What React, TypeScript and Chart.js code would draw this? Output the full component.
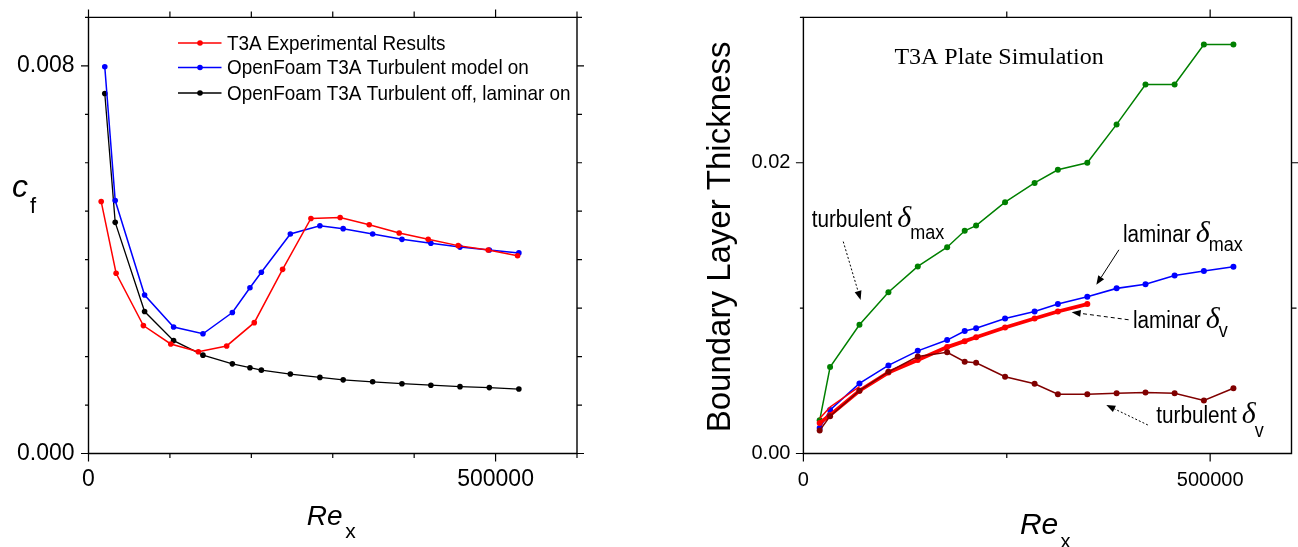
import React, { useEffect, useRef } from "react";
import { Chart, registerables } from "chart.js";
Chart.register(...registerables);

const SANS = "'Liberation Sans', Arial, Helvetica, sans-serif";
const SERIF = "'Liberation Serif', 'Times New Roman', serif";

// ---------- Left panel: skin friction ----------
const expRe = [15600, 33900, 67400, 101000, 134900, 169700, 203600, 238400, 273200, 309100, 344800, 381600, 417200, 454100, 490900, 527000];
const expCf = [0.0052, 0.00372, 0.00264, 0.00226, 0.0021, 0.00222, 0.0027, 0.0038, 0.00485, 0.00487, 0.00472, 0.00455, 0.00442, 0.00429, 0.0042, 0.00408];
const simRe = [20000, 32800, 68900, 104500, 140600, 176700, 198300, 212300, 247900, 284200, 312800, 349000, 385000, 420500, 456300, 492300, 528600];
const turbOnCf = [0.00798, 0.00522, 0.00327, 0.00261, 0.00247, 0.00291, 0.00342, 0.00374, 0.00453, 0.0047, 0.00464, 0.00453, 0.00442, 0.00434, 0.00426, 0.0042, 0.00414];
const lamOnCf = [0.00743, 0.00477, 0.00293, 0.00233, 0.00203, 0.00185, 0.00177, 0.00172, 0.00164, 0.00157, 0.00152, 0.00148, 0.00144, 0.00141, 0.00138, 0.00136, 0.00133];
const cfNames = ["T3A Experimental Results", "OpenFoam T3A Turbulent model on", "OpenFoam T3A Turbulent off, laminar on"];
const cfColors = ["#ff0000", "#0000ff", "#000000"];
const cfXTicks = [0, 100000, 200000, 300000, 400000, 500000, 600000];
const cfYTicks = [0, 0.001, 0.002, 0.003, 0.004, 0.005, 0.006, 0.007, 0.008, 0.009];
const cfXTickVals = [0, 500000];
const cfXTickText = ["0", "500000"];
const cfYTickVals = [0, 0.008];
const cfYTickText = ["0.000", "0.008"];

// ---------- Right panel: boundary layer thickness ----------
const turbDeltaMax = [0.00228, 0.00595, 0.00886, 0.01109, 0.01287, 0.01419, 0.01532, 0.01568, 0.01729, 0.01861, 0.01952, 0.02, 0.02264, 0.02538, 0.02538, 0.02814, 0.02814];
const lamDeltaMax = [0.00175, 0.003, 0.00482, 0.00606, 0.00706, 0.0078, 0.00843, 0.00862, 0.00929, 0.00977, 0.01028, 0.01078, 0.01136, 0.01164, 0.01225, 0.01256, 0.01285];
const lamDeltaV = [0.0021, 0.00264, 0.00432, 0.00557, 0.00643, 0.00732, 0.00773, 0.008, 0.00867, 0.00929, 0.00977, 0.01028];
const lamDeltaVThin = [0.0024, 0.0032, 0.0046];
const turbDeltaV = [0.00158, 0.00257, 0.00432, 0.00562, 0.00667, 0.00696, 0.00631, 0.00624, 0.00528, 0.0048, 0.00408, 0.00408, 0.00415, 0.0042, 0.00415, 0.00365, 0.00449];
const blXTicks = [0, 250000, 500000];
const blYTicks = [0, 0.01, 0.02, 0.03];
const blXTopTicks = [250000, 500000];
const blYRightTicks = [0.01, 0.02];
const blXTickVals = [0, 500000];
const blXTickText = ["0", "500000"];
const blYTickVals = [0, 0.02];
const blYTickText = ["0.00", "0.02"];

// annotations (data coordinates)
const noteWord = ["turbulent", "laminar", "laminar", "turbulent"];
const noteSub = ["max", "max", "v", "v"];
const noteX = [10190, 392730, 405010, 433740];
const noteY = [0.01561, 0.014535, 0.008617, 0.002078];
const noteSubDy = [12, 9, 9, 14];
const arrowFromX = [48990, 387820, 399740, 423430];
const arrowFromY = [0.014577, 0.014012, 0.0092, 0.00196];
const arrowToX = [70350, 360080, 329760, 372360];
const arrowToY = [0.010564, 0.011603, 0.00972, 0.003338];
const arrowDash = [[2, 2], [], [4, 3], [2, 2]];

const pts = (xs: number[], ys: number[]) => ys.map((y, i) => ({ x: xs[i], y }));

const near = (v: number, arr: number[], tol: number) => arr.some((a) => Math.abs(a - v) <= tol);

function tickFmt(vals: number[], texts: string[], tol: number) {
  return (v: any) => {
    const n = Number(v);
    for (let i = 0; i < vals.length; i++) if (Math.abs(n - vals[i]) <= tol) return texts[i];
    return "";
  };
}

function drawText(ctx: CanvasRenderingContext2D, text: string, x: number, y: number, font: string, sx = 1, align: CanvasTextAlign = "left", baseline: CanvasTextBaseline = "alphabetic") {
  ctx.save();
  ctx.font = font;
  ctx.fillStyle = "#000";
  ctx.textAlign = align;
  ctx.textBaseline = baseline;
  ctx.translate(x, y);
  ctx.scale(sx, 1);
  ctx.fillText(text, 0, 0);
  const w = ctx.measureText(text).width * sx;
  ctx.restore();
  return w;
}

function drawArrow(ctx: CanvasRenderingContext2D, x1: number, y1: number, x2: number, y2: number, dash: number[]) {
  ctx.save();
  ctx.strokeStyle = "#000";
  ctx.fillStyle = "#000";
  ctx.lineWidth = 1;
  const ang = Math.atan2(y2 - y1, x2 - x1);
  const hl = 9, hw = 3.5;
  const bx = x2 - hl * Math.cos(ang), by = y2 - hl * Math.sin(ang);
  ctx.setLineDash(dash);
  ctx.beginPath();
  ctx.moveTo(x1, y1);
  ctx.lineTo(bx, by);
  ctx.stroke();
  ctx.setLineDash([]);
  ctx.beginPath();
  ctx.moveTo(x2, y2);
  ctx.lineTo(bx + hw * Math.sin(ang), by - hw * Math.cos(ang));
  ctx.lineTo(bx - hw * Math.sin(ang), by + hw * Math.cos(ang));
  ctx.closePath();
  ctx.fill();
  ctx.restore();
}

function drawFrame(chart: any, xMajor: number[], yMajor: number[], tolX: number, tolY: number, mirrorX: number[] | null, mirrorY: number[] | null) {
  const { ctx, chartArea: a } = chart;
  const xs = chart.scales.x, ys = chart.scales.y;
  ctx.save();
  ctx.strokeStyle = "#000";
  ctx.lineWidth = 1.4;
  ctx.beginPath();
  ctx.rect(a.left, a.top, a.right - a.left, a.bottom - a.top);
  ctx.stroke();
  ctx.lineWidth = 1.2;
  ctx.beginPath();
  for (const t of xs.ticks) {
    const p = xs.getPixelForValue(t.value);
    const maj = near(t.value, xMajor, tolX);
    ctx.moveTo(p, a.bottom);
    ctx.lineTo(p, a.bottom + (maj ? 8 : 4.5));
    if (!mirrorX || near(t.value, mirrorX, tolX)) {
      ctx.moveTo(p, a.top);
      ctx.lineTo(p, a.top - (maj ? 8 : 6));
    }
  }
  for (const t of ys.ticks) {
    const p = ys.getPixelForValue(t.value);
    const maj = near(t.value, yMajor, tolY);
    ctx.moveTo(a.left, p);
    ctx.lineTo(a.left - (maj ? 7.5 : 3.5), p);
    if (!mirrorY || near(t.value, mirrorY, tolY)) {
      ctx.moveTo(a.right, p);
      ctx.lineTo(a.right + (maj ? 7 : 5), p);
    }
  }
  ctx.stroke();
  ctx.restore();
}

function scaleX(tickList: number[], vals: number[], texts: string[], size: number, pad: number, h: number) {
  return {
    type: "linear" as const,
    min: 0,
    max: 600000,
    afterBuildTicks: (s: any) => {
      s.ticks = tickList.map((value) => ({ value }));
    },
    ticks: {
      autoSkip: false,
      maxRotation: 0,
      minRotation: 0,
      padding: pad,
      color: "#000",
      font: { family: SANS, size },
      callback: tickFmt(vals, texts, 1),
    },
    grid: { display: false, drawTicks: false },
    border: { display: false },
    afterFit: (s: any) => {
      s.height = h;
      s.paddingLeft = 0;
      s.paddingRight = 0;
      s.paddingTop = 0;
      s.paddingBottom = 0;
    },
  };
}

function scaleY(max: number, tickList: number[], vals: number[], texts: string[], size: number, pad: number, w: number) {
  return {
    type: "linear" as const,
    min: 0,
    max,
    afterBuildTicks: (s: any) => {
      s.ticks = tickList.map((value) => ({ value }));
    },
    ticks: {
      autoSkip: false,
      padding: pad,
      color: "#000",
      font: { family: SANS, size },
      callback: tickFmt(vals, texts, 1e-7),
    },
    grid: { display: false, drawTicks: false },
    border: { display: false },
    afterFit: (s: any) => {
      s.width = w;
      s.paddingLeft = 0;
      s.paddingRight = 0;
      s.paddingTop = 0;
      s.paddingBottom = 0;
    },
  };
}

function lineDs(label: string, data: any[], color: string, width: number, radius: number) {
  return {
    label,
    data,
    borderColor: color,
    backgroundColor: color,
    pointBackgroundColor: color,
    pointBorderColor: color,
    pointBorderWidth: 0,
    borderWidth: width,
    pointRadius: radius,
    tension: 0,
    showLine: true,
    fill: false,
  };
}

export default function App() {
  const leftRef = useRef<HTMLCanvasElement>(null);
  const rightRef = useRef<HTMLCanvasElement>(null);

  useEffect(() => {
    const leftPlugin = {
      id: "leftExtras",
      afterDatasetsDraw(chart: any) {
        drawFrame(chart, cfXTickVals, cfYTickVals, 1, 1e-7, null, null);
      },
      afterDraw(chart: any) {
        const ctx: CanvasRenderingContext2D = chart.ctx;
        const a = chart.chartArea;
        // legend
        const rows = [43, 67.5, 93];
        cfNames.forEach((name, i) => {
          const y = rows[i];
          ctx.save();
          ctx.strokeStyle = cfColors[i];
          ctx.fillStyle = cfColors[i];
          ctx.lineWidth = 1.5;
          ctx.beginPath();
          ctx.moveTo(178, y);
          ctx.lineTo(221.5, y);
          ctx.stroke();
          ctx.beginPath();
          ctx.arc(200, y, 2.8, 0, Math.PI * 2);
          ctx.fill();
          ctx.restore();
          drawText(ctx, name, 227, y + 1, `21px ${SANS}`, 0.9, "left", "middle");
        });
        // y label c_f
        drawText(ctx, "c", 12, 197, `italic 32px ${SANS}`);
        drawText(ctx, "f", 30, 213, `22px ${SANS}`);
        // x label Re_x
        const cx = (a.left + a.right) / 2;
        drawText(ctx, "Re", cx - 26, 525, `italic 28px ${SANS}`);
        drawText(ctx, "x", cx + 12.5, 538, `21px ${SANS}`);
      },
    };

    const rightPlugin = {
      id: "rightExtras",
      afterDatasetsDraw(chart: any) {
        drawFrame(chart, blXTickVals, blYTickVals, 1, 1e-7, blXTopTicks, blYRightTicks);
      },
      afterDraw(chart: any) {
        const ctx: CanvasRenderingContext2D = chart.ctx;
        const a = chart.chartArea;
        const xs = chart.scales.x, ys = chart.scales.y;
        // title
        drawText(ctx, "T3A Plate Simulation", xs.getPixelForValue(111840), ys.getPixelForValue(0.02677), `24px ${SERIF}`);
        // y title
        ctx.save();
        ctx.translate(a.left - 73.4, (a.top + a.bottom) / 2 + 1.5);
        ctx.rotate(-Math.PI / 2);
        ctx.font = `33px ${SANS}`;
        ctx.fillStyle = "#000";
        ctx.textAlign = "center";
        ctx.textBaseline = "alphabetic";
        ctx.fillText("Boundary Layer Thickness", 0, 0);
        ctx.restore();
        // x title
        const cx = (a.left + a.right) / 2;
        drawText(ctx, "Re", cx - 27.5, 534, `italic 30px ${SANS}`);
        drawText(ctx, "x", cx + 13, 548, `20px ${SANS}`);
        // notes
        noteWord.forEach((word, i) => {
          const px = xs.getPixelForValue(noteX[i]);
          const py = ys.getPixelForValue(noteY[i]);
          const w = drawText(ctx, word, px, py, `23px ${SANS}`, 0.9);
          const dx = px + w + 5;
          drawText(ctx, "δ", dx, py, `italic 30px ${SERIF}`);
          drawText(ctx, noteSub[i], dx + 13, py + noteSubDy[i], `20px ${SANS}`, 0.9);
        });
        arrowFromX.forEach((fx, i) => {
          drawArrow(
            ctx,
            xs.getPixelForValue(fx),
            ys.getPixelForValue(arrowFromY[i]),
            xs.getPixelForValue(arrowToX[i]),
            ys.getPixelForValue(arrowToY[i]),
            arrowDash[i]
          );
        });
      },
    };

    const c1 = new Chart(leftRef.current as HTMLCanvasElement, {
      type: "line",
      data: {
        datasets: [
          lineDs(cfNames[0], pts(expRe, expCf), cfColors[0], 1.5, 2.8),
          lineDs(cfNames[1], pts(simRe, turbOnCf), cfColors[1], 1.5, 2.8),
          lineDs(cfNames[2], pts(simRe, lamOnCf), cfColors[2], 1.3, 2.8),
        ],
      },
      options: {
        animation: false,
        responsive: false,
        devicePixelRatio: 1,
        layout: { padding: { left: 0, top: 17.4, right: 63, bottom: 0 } },
        plugins: { legend: { display: false }, tooltip: { enabled: false } },
        scales: {
          x: scaleX(cfXTicks, cfXTickVals, cfXTickText, 23, 12, 93.5),
          y: scaleY(0.009, cfYTicks, cfYTickVals, cfYTickText, 23, 14, 88.5),
        },
      },
      plugins: [leftPlugin],
    } as any);

    const c2 = new Chart(rightRef.current as HTMLCanvasElement, {
      type: "line",
      data: {
        datasets: [
          lineDs("turbulent δv", pts(simRe, turbDeltaV), "#800000", 1.5, 3),
          lineDs("laminar δv", pts(simRe, lamDeltaV), "#ff0000", 3.8, 3),
          lineDs("laminar δv (thin)", pts(simRe, lamDeltaVThin), "#ff0000", 1.5, 0),
          lineDs("laminar δmax", pts(simRe, lamDeltaMax), "#0000ff", 1.6, 3),
          lineDs("turbulent δmax", pts(simRe, turbDeltaMax), "#008000", 1.5, 3),
        ],
      },
      options: {
        animation: false,
        responsive: false,
        devicePixelRatio: 1,
        layout: { padding: { left: 0, top: 17.4, right: 6.5, bottom: 0 } },
        plugins: { legend: { display: false }, tooltip: { enabled: false } },
        scales: {
          x: scaleX(blXTicks, blXTickVals, blXTickText, 20, 14.5, 93.5),
          y: scaleY(0.03, blYTicks, blYTickVals, blYTickText, 20, 13, 163.4),
        },
      },
      plugins: [rightPlugin],
    } as any);

    return () => {
      c1.destroy();
      c2.destroy();
    };
  }, []);

  return (
    <div style={{ position: "fixed", left: 0, top: 0, width: 1298, height: 547, background: "#fff" }}>
      <canvas ref={leftRef} width={640} height={547} style={{ position: "absolute", left: 0, top: 0, width: 640, height: 547 }} />
      <canvas ref={rightRef} width={658} height={547} style={{ position: "absolute", left: 640, top: 0, width: 658, height: 547 }} />
    </div>
  );
}
